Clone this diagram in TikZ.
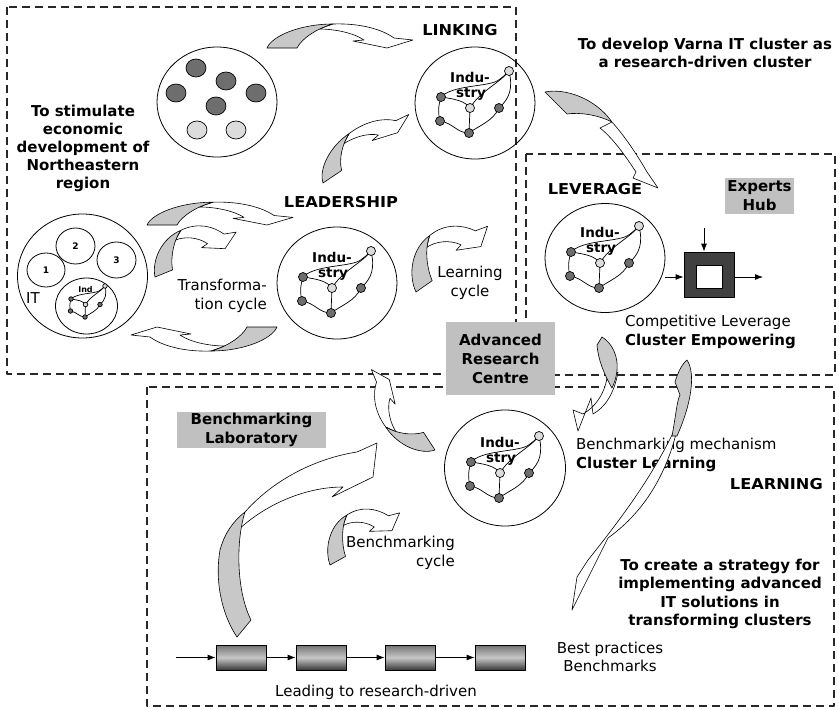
\documentclass[tikz,border=0pt]{standalone}
\usepackage{fontspec}
\setmainfont{DejaVu Sans}
\newfontfamily\capsfont[FakeStretch=1.08]{DejaVu Sans}
\usetikzlibrary{shapes.geometric,arrows.meta,calc}

\definecolor{arrowgray}{RGB}{200,200,200}
\definecolor{boxgray}{RGB}{192,192,192}
\definecolor{dotdark}{RGB}{110,110,110}
\definecolor{dotlight}{RGB}{220,220,220}
\definecolor{blockdark}{RGB}{64,64,64}
\definecolor{dashcol}{RGB}{40,40,40}

% curved ribbon arrow: tail at the origin, flat head near (120,0)
\newcommand\curvedarrow[5]{%
  \begin{scope}[shift={(#1,#2)},rotate=#3,xscale=#4,yscale=#5]
    \filldraw[fill=white,line width=0.6pt] (66,-24) .. controls (95,-25) and (116,-18) .. (127,-10) -- (146,-8) -- (120,0) -- (86,-7) -- (97,-8) .. controls (87,-15) and (68,-19) .. (52,-19) -- cycle;
    \filldraw[fill=arrowgray,line width=0.6pt] (0,0) .. controls (5,-12) and (33,-24) .. (66,-24) .. controls (51,-20) and (35,-10) .. (30,0) -- cycle;
  \end{scope}}

% cluster network, drawn around the current origin
\newcommand\netdraw{%
  \begin{scope}[line width=0.7pt]
    \draw (-34,-6) .. controls (-22,-18) and (10,-16) .. (22,-22) .. controls (27,-25) and (30,-28) .. (34,-32);
    \draw (-34,-6) .. controls (-20,-4) and (-10,-2) .. (-5,5);
    \draw (34,-32) .. controls (25,-20) and (5,-12) .. (-5,5);
    \draw (34,-32) .. controls (38,-15) and (35,-5) .. (24,5);
    \draw (-5,5) -- (-6,30);
    \draw (-34,-6) .. controls (-37,4) and (-37,10) .. (-35,18);
    \draw (-35,18) .. controls (-22,20) and (-18,30) .. (-6,30);
    \draw (-6,30) .. controls (5,22) and (18,18) .. (24,5);
    \filldraw[fill=dotlight] (34,-32) circle[radius=4.5];
    \filldraw[fill=dotlight] (-5,5) circle[radius=4.5];
    \filldraw[fill=dotdark] (-34,-6) circle[radius=4.5];
    \filldraw[fill=dotdark] (24,5) circle[radius=4.5];
    \filldraw[fill=dotdark] (-35,18) circle[radius=4.5];
    \filldraw[fill=dotdark] (-6,30) circle[radius=4.5];
  \end{scope}}

% labelled industry network at (#1,#2)
\newcommand\indnet[2]{%
  \begin{scope}[shift={(#1,#2)}]
    \netdraw
    \node[inner sep=0pt,font=\fontsize{13.5}{13.5}\selectfont\bfseries] at (-5,-26) {Indu-};
    \node[inner sep=0pt,font=\fontsize{13.5}{13.5}\selectfont\bfseries] at (-4,-9) {stry};
  \end{scope}}

\begin{document}
\begin{tikzpicture}[x=1pt,y=-1pt,line join=round,
  txt/.style={inner sep=0pt,align=center,font=\fontsize{15}{18.5}\selectfont},
  btxt/.style={inner sep=0pt,align=center,font=\fontsize{15}{18.5}\selectfont\bfseries},
  ctxt/.style={inner sep=0pt,align=center,font=\fontsize{15}{18.5}\selectfont\capsfont\bfseries},
  zone/.style={draw=dashcol,line width=1.3pt,dash pattern=on 8pt off 5pt},
  graybox/.style={fill=boxgray,inner sep=0pt,align=center,font=\fontsize{15}{19}\selectfont\bfseries},
  ring/.style={draw,ellipse,line width=0.8pt,inner sep=0pt},
  chainbox/.style={draw,line width=0.8pt,minimum width=50,minimum height=25,inner sep=0pt,
    top color=black!55,bottom color=black!78,middle color=black!22},
  flow/.style={-{Latex[length=8pt,width=6pt]},line width=0.8pt},
  ribbon/.style={line width=0.6pt}]
\useasboundingbox (0,0) rectangle (839,710);
\fill[white] (0,0) rectangle (839,710);

% dashed zones
\draw[zone] (7,7) rectangle (516,374);
\draw[zone] (526,154) rectangle (835,375);
\draw[zone] (147,387) rectangle (834,706);

% gray label boxes
\node[graybox,minimum width=109,minimum height=73] (arc) at (500.5,358.5) {Advanced\\Research\\Centre};
\node[graybox,minimum width=69,minimum height=36] (hub) at (759.5,196) {Experts\\Hub};
\node[graybox,minimum width=149,minimum height=36] (lab) at (251.5,430) {Benchmarking\\Laboratory};

% headings and texts
\node[ctxt] (linking) at (460,30) {LINKING};
\node[btxt] (goal1) at (705,53) {To develop Varna IT cluster as\\a research-driven cluster};
\node[btxt,font=\fontsize{15}{17.8}\selectfont\bfseries] (goal2) at (83,148.5) {To stimulate\\economic\\development of\\Northeastern\\region};
\node[ctxt] (leadership) at (341,202) {LEADERSHIP};
\node[ctxt] (leverage) at (595,189) {LEVERAGE};
\node[txt,align=right,anchor=east] (tcycle) at (267,296) {Transforma-\\tion cycle};
\node[txt] (lcycle) at (470,283) {Learning\\cycle};
\node[txt,align=left,anchor=west] (cemp) at (625,332) {Competitive Leverage\\\textbf{Cluster Empowering}};
\node[txt,align=left,anchor=west] (clearn) at (576,455) {Benchmarking mechanism\\\textbf{Cluster Learning}};
\node[ctxt,anchor=east] (learning) at (823,484) {LEARNING};
\node[btxt] (goal3) at (720,594) {To create a strategy for\\implementing advanced\\IT solutions in\\transforming clusters};
\node[txt,align=right,anchor=east] (bcycle) at (455,553) {Benchmarking\\cycle};
\node[txt] (best) at (610,657) {Best practices\\Benchmarks};
\node[txt] (leading) at (376,692) {Leading to research-driven};

% cluster of firms
\node[ring,minimum width=120,minimum height=110] (firms) at (217,102) {};
\foreach \x/\y in {196/68,226/81,176/93,256/93,216/106}
  \filldraw[fill=dotdark,line width=0.7pt] (\x,\y) circle[x radius=10,y radius=9];
\foreach \x/\y in {197/130,236/130}
  \filldraw[fill=dotlight,line width=0.7pt] (\x,\y) circle[x radius=10,y radius=9];

% IT sector circle
\node[ring,minimum width=130,minimum height=124] (it) at (82.5,276) {};
\node[ring,minimum width=38,minimum height=34,font=\fontsize{9}{9}\selectfont\bfseries] (s1) at (46,270) {1};
\node[ring,minimum width=39,minimum height=36,font=\fontsize{9}{9}\selectfont\bfseries] (s2) at (75.5,246) {2};
\node[ring,minimum width=39,minimum height=36,font=\fontsize{9}{9}\selectfont\bfseries] (s3) at (116.5,260) {3};
\node[ring,minimum width=62,minimum height=56] (s4) at (86.5,306) {};
\node[txt] (itlbl) at (33,298) {IT};
\begin{scope}[shift={(88,302)},scale=0.5]
  \netdraw
\end{scope}
\node[inner sep=0pt,font=\fontsize{8}{8}\selectfont\bfseries] at (85.5,290) {Ind};

% industry clusters
\node[ring,minimum width=120,minimum height=112] (linkc) at (475,103) {};
\indnet{475}{103}
\node[ring,minimum width=120,minimum height=112] (leadc) at (337,283) {};
\indnet{337}{283}
\node[ring,minimum width=120,minimum height=109] (levc) at (605,258) {};
\indnet{605}{258}
\node[ring,minimum width=121,minimum height=116] (learnc) at (505,468) {};
\indnet{505}{468}

% empowering block
\node[draw,fill=blockdark,line width=0.8pt,minimum width=50,minimum height=45,inner sep=0pt] (blk) at (709,274.5) {};
\node[draw,fill=white,line width=0.8pt,minimum width=26,minimum height=23,inner sep=0pt] (blkin) at (709,276.5) {};
\coordinate (blktop) at (704,228);
\coordinate (blkin0) at (665,277);
\coordinate (blkout) at (763,277);
\draw[flow] (blktop) -- (blktop |- blk.north);
\draw[flow] (blkin0) -- (blkin0 -| blk.west);
\draw[flow] (blkout -| blk.east) -- (blkout);

% benchmark chain
\node[chainbox] (c1) at (241,657.5) {};
\node[chainbox] (c2) at (321,657.5) {};
\node[chainbox] (c3) at (410,657.5) {};
\node[chainbox] (c4) at (500,657.5) {};
\coordinate (cin) at (176,657.5);
\draw[flow] (cin) -- (c1);
\draw[flow] (c1) -- (c2);
\draw[flow] (c2) -- (c3);
\draw[flow] (c3) -- (c4);

% ribbon arrows of the cycles
\curvedarrow{267}{48}{0}{1}{1}
\curvedarrow{323}{183}{34}{0.75}{1.1}
\curvedarrow{147}{225}{0}{1}{0.95}
\curvedarrow{155}{277}{22}{0.63}{1.4}
\curvedarrow{277}{327}{180}{1}{1}
\curvedarrow{416}{292}{35}{0.66}{1.6}
\curvedarrow{330}{565}{29}{0.59}{1.48}
\curvedarrow{435}{450}{123}{0.7}{1.2}

% arrow from LEVERAGE down to the benchmarking mechanism
\filldraw[ribbon,fill=white] (618,372) .. controls (614,395) and (604,408) .. (593,414) -- (591,398) -- (578,431) -- (573,410) -- (583,414) .. controls (595,407) and (604,395) .. (607,378) -- cycle;
\filldraw[ribbon,fill=arrowgray] (602,337) .. controls (615,345) and (623,365) .. (612,388) .. controls (605,376) and (598,360) .. (597,345) -- cycle;

% long arrow towards LEVERAGE
\filldraw[ribbon,fill=white] (612,122) .. controls (628,140) and (640,160) .. (647,172) -- (658,188) -- (633,178) -- (636,172) .. controls (628,160) and (615,140) .. (600,128) -- cycle;
\filldraw[ribbon,fill=arrowgray] (545,92) .. controls (565,88) and (595,98) .. (612,122) .. controls (598,115) and (580,112) .. (567,114) -- cycle;

% long arrow towards best practices
\filldraw[ribbon,fill=white] (677,430) .. controls (665,480) and (640,515) .. (608,538) -- (597,560) -- (572,610) -- (577,577) -- (588,560) .. controls (620,520) and (650,480) .. (673,433) -- cycle;
\filldraw[ribbon,fill=arrowgray] (687,360) .. controls (695,372) and (693,400) .. (677,436) -- (672,436) .. controls (676,415) and (677,400) .. (680,395) -- (675,382) .. controls (678,372) and (682,364) .. (687,360) -- cycle;

% long arrow of the benchmarking laboratory
\filldraw[ribbon,fill=white] (245,512) .. controls (275,478) and (318,458) .. (357,452) -- (377,443) -- (373,477) -- (332,497) -- (343,487) .. controls (300,487) and (250,510) .. (220,550) -- cycle;
\filldraw[ribbon,fill=arrowgray] (237,637) .. controls (224,618) and (214,585) .. (220,550) .. controls (224,535) and (232,522) .. (245,512) .. controls (236,540) and (236,590) .. (251,620) -- cycle;
\end{tikzpicture}
\end{document}
